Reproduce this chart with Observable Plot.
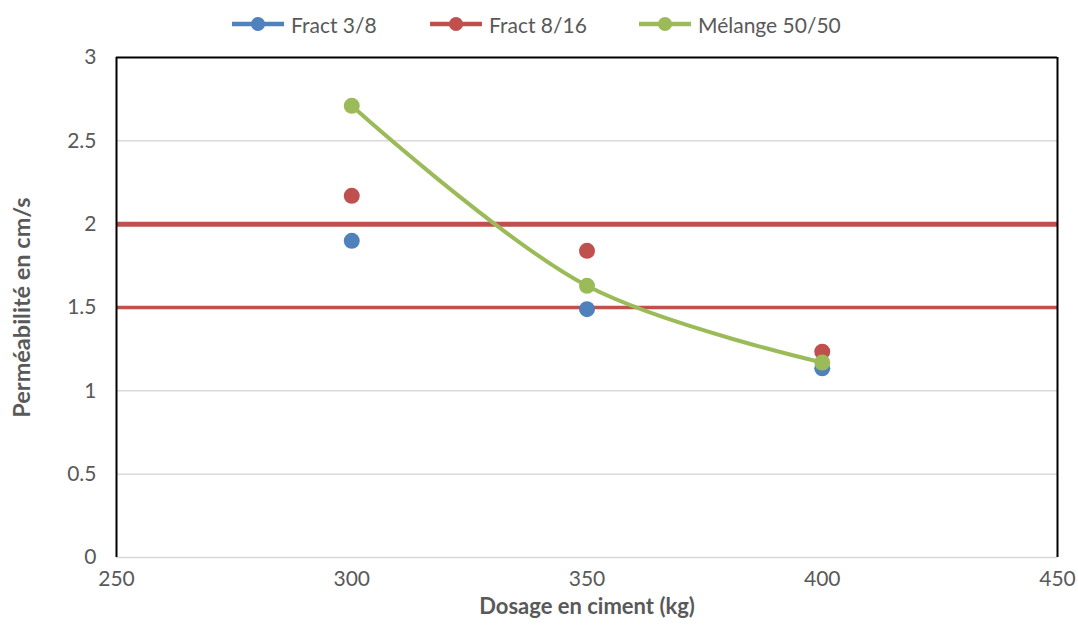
<!DOCTYPE html>
<html>
<head>
<meta charset="utf-8">
<script src="https://cdn.jsdelivr.net/npm/d3@7"></script>
<script src="https://cdn.jsdelivr.net/npm/@observablehq/plot@0.6"></script>
<style>
  html, body { margin: 0; padding: 0; background: #fff; }
  body { width: 1078px; height: 626px; overflow: hidden; font-family: Lato, "Open Sans", sans-serif; }
  #legend { position: relative; height: 35px; color: #595959; font-size: 21px; }
  .item { position: absolute; top: 10px; display: flex; align-items: center; height: 28px; white-space: nowrap; }
  .item svg { margin-right: 7px; }
  #chart svg { display: block; }
</style>
</head>
<body>
<div id="legend"></div>
<div id="chart"></div>
<script>
const dosages = [300, 350, 400];
const seriesNames = ["Fract 3/8", "Fract 8/16", "Mélange 50/50"];
const fract38 = [1.90, 1.49, 1.135];
const fract816 = [2.17, 1.84, 1.235];
const melange = [2.71, 1.63, 1.17];
const redLines = [2, 1.5];
const xTicks = [250, 300, 350, 400, 450];
const yTicks = [0, 0.5, 1, 1.5, 2, 2.5, 3];
const colors = ["#4F81BD", "#C0504D", "#9BBB59"];
const legendLeft = [232, 430, 639];

const rows = [];
[fract38, fract816, melange].forEach((vals, s) => {
  vals.forEach((v, i) => rows.push({series: seriesNames[s], x: dosages[i], y: v}));
});
const melRows = rows.filter(d => d.series === "Mélange 50/50");

// legend
const legend = document.getElementById("legend");
seriesNames.forEach((name, i) => {
  const item = document.createElement("div");
  item.className = "item";
  item.style.left = legendLeft[i] + "px";
  item.innerHTML = `<svg width="52" height="16"><line x1="0" y1="8" x2="52" y2="8" stroke="${colors[i]}" stroke-width="4.5"/><circle cx="26" cy="8" r="7" fill="${colors[i]}"/></svg><span>${name}</span>`;
  legend.appendChild(item);
});

const fmt = d => String(d);

const plot = Plot.plot({
  width: 1078,
  height: 591,
  marginLeft: 116,
  marginRight: 21,
  marginTop: 22,
  marginBottom: 69,
  style: {fontFamily: "Lato, 'Open Sans', sans-serif", fontSize: "21px", color: "#595959", background: "#fff"},
  x: {domain: [250, 450], ticks: xTicks, tickSize: 0, label: null},
  y: {domain: [0, 3], ticks: yTicks, tickSize: 0, label: null},
  color: {domain: seriesNames, range: colors},
  marks: [
    Plot.ruleY(yTicks.filter(t => t < 3), {stroke: "#d9d9d9", strokeWidth: 1.5}),
    Plot.ruleY([redLines[0]], {stroke: colors[1], strokeWidth: 5}),
    Plot.ruleY([redLines[1]], {stroke: colors[1], strokeWidth: 3.5}),
    Plot.ruleX([250, 450], {stroke: "#000", strokeWidth: 2}),
    Plot.ruleY([3], {stroke: "#000", strokeWidth: 2}),
    Plot.line(melRows, {x: "x", y: "y", stroke: colors[2], strokeWidth: 4, curve: "catmull-rom"}),
    Plot.dot(rows, {x: "x", y: "y", fill: "series", r: 8}),
    Plot.axisX({ticks: xTicks, tickSize: 0, tickPadding: 14, fontSize: 21, tickFormat: fmt, label: null}),
    Plot.axisY({ticks: yTicks, tickSize: 0, tickPadding: 20, fontSize: 21, tickFormat: fmt, label: null}),
    Plot.text(["Dosage en ciment (kg)"], {frameAnchor: "bottom", dy: 56, fontSize: 22, fontWeight: "bold", fill: "#595959"}),
    Plot.text(["Perméabilité en cm/s"], {frameAnchor: "left", dx: -94, rotate: -90, textAnchor: "middle", fontSize: 23.5, fontWeight: "bold", fill: "#595959"})
  ]
});
document.getElementById("chart").appendChild(plot);
</script>
</body>
</html>
